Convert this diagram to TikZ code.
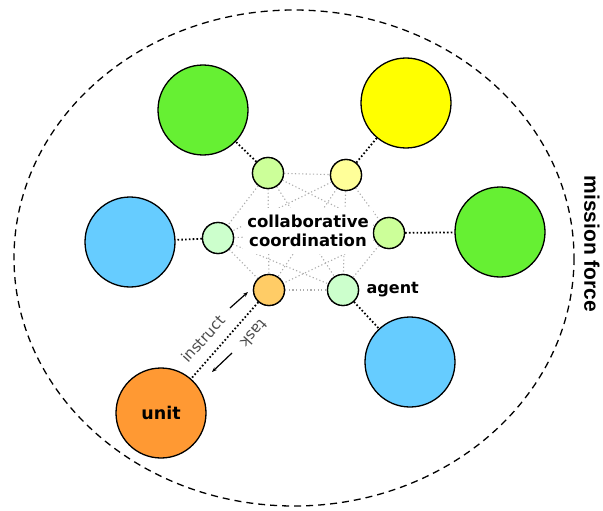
\documentclass[tikz,border=0pt]{standalone}
\usepackage{fontspec}
\setmainfont{DejaVu Sans}
\newfontfamily\missionfont{Liberation Sans}
\usetikzlibrary{positioning}
\usetikzlibrary{arrows.meta}
\definecolor{bigGreen}{RGB}{102,240,51}
\definecolor{bigYellow}{RGB}{255,255,0}
\definecolor{bigBlue}{RGB}{102,204,255}
\definecolor{bigOrange}{RGB}{255,153,51}
\definecolor{smallGreen}{RGB}{204,255,153}
\definecolor{smallYellow}{RGB}{255,255,153}
\definecolor{smallMint}{RGB}{204,255,204}
\definecolor{smallOrange}{RGB}{255,204,102}
\tikzset{
bigagent/.style={circle, draw=black, line width=1.3pt, minimum size=90pt, inner sep=0pt, fill=#1},
smallagent/.style={circle, draw=black, line width=1.3pt, minimum size=31pt, inner sep=0pt, fill=#1},
link/.style={black, line width=1.8pt, dash pattern=on 1.6pt off 2.2pt},
mesh/.style={black!32, line width=1.1pt, dash pattern=on 1.2pt off 2.4pt}
}
\begin{document}
\begin{tikzpicture}[x=1pt,y=-1pt]
\useasboundingbox (0,0) rectangle (603,511);

% Force boundary
\draw[black, line width=1.3pt, dash pattern=on 7pt off 5pt] (294,258) ellipse [x radius=280, y radius=248];
\node[font=\missionfont\bfseries\fontsize{21}{21}\selectfont, rotate=-90, inner sep=0pt] (mission_label) at (592,244) {mission force};

% Coordinates
\coordinate (tl_pos) at (268,173);
\coordinate (tr_pos) at (346,175);
\coordinate (l_pos) at (218,238);
\coordinate (r_pos) at (389,233);
\coordinate (bl_pos) at (269,290);
\coordinate (br_pos) at (343,290);

% Small agents
\node[smallagent=smallGreen] (agent_tl) at (tl_pos) {};
\node[smallagent=smallYellow] (agent_tr) at (tr_pos) {};
\node[smallagent=smallMint] (agent_l) at (l_pos) {};
\node[smallagent=smallGreen] (agent_r) at (r_pos) {};
\node[smallagent=smallOrange] (agent_bl) at (bl_pos) {};
\node[smallagent=smallMint] (agent_br) at (br_pos) {};

% Mesh
\foreach \a/\b in {agent_tl/agent_tr, agent_tl/agent_r, agent_tl/agent_l, agent_tl/agent_bl, agent_tl/agent_br,
                   agent_tr/agent_l, agent_tr/agent_r, agent_tr/agent_bl, agent_tr/agent_br,
                   agent_l/agent_r, agent_l/agent_bl, agent_l/agent_br,
                   agent_r/agent_bl, agent_r/agent_br, agent_bl/agent_br}
  \draw[mesh] (\a) -- (\b);

\node[fill=white, inner xsep=4pt, inner ysep=7pt, align=center, font=\bfseries\fontsize{16.5}{19}\selectfont] (coord_label) at (308,231) {collaborative\\coordination};

% Redraw small agents on top
\foreach \n/\c in {agent_tl/smallGreen, agent_tr/smallYellow, agent_l/smallMint, agent_r/smallGreen, agent_bl/smallOrange, agent_br/smallMint}
  \node[smallagent=\c] at (\n) {};

% Big units
\node[bigagent=bigGreen] (unit_tl) at (203,110) {};
\node[bigagent=bigYellow] (unit_tr) at (406,103) {};
\node[bigagent=bigBlue] (unit_l) at (130,242) {};
\node[bigagent=bigGreen] (unit_r) at (500,232) {};
\node[bigagent=bigBlue] (unit_br) at (410,362) {};
\node[bigagent=bigOrange, font=\bfseries\fontsize{17.5}{17.5}\selectfont] (unit) at (161,413) {unit};

% Links
\draw[link] (agent_tl) -- (unit_tl);
\draw[link] (agent_tr) -- (unit_tr);
\draw[link] (agent_l) -- (unit_l);
\draw[link] (agent_r) -- (unit_r);
\draw[link] (agent_br) -- (unit_br);
\draw[link] (agent_bl) -- (unit);

\node[font=\bfseries\fontsize{16}{16}\selectfont, right=4pt of agent_br] (agent_label) {agent};

% Instruct / task
\node[rotate=48, inner sep=1pt, font=\fontsize{15}{15}\selectfont, text=black!70] (instruct_label) at (203,339) {instruct};
\node[rotate=228, inner sep=1pt, font=\fontsize{15}{15}\selectfont, text=black!70] (task_label) at (254,334) {task};
\coordinate (instruct_tail) at (230,308);
\coordinate (instruct_head) at (248,292);
\coordinate (task_tail) at (232,353);
\coordinate (task_head) at (212,372);
\draw[-{Stealth[length=5pt]}, line width=1.2pt] (instruct_tail) -- (instruct_head);
\draw[-{Stealth[length=5pt]}, line width=1.2pt] (task_tail) -- (task_head);

\end{tikzpicture}
\end{document}
